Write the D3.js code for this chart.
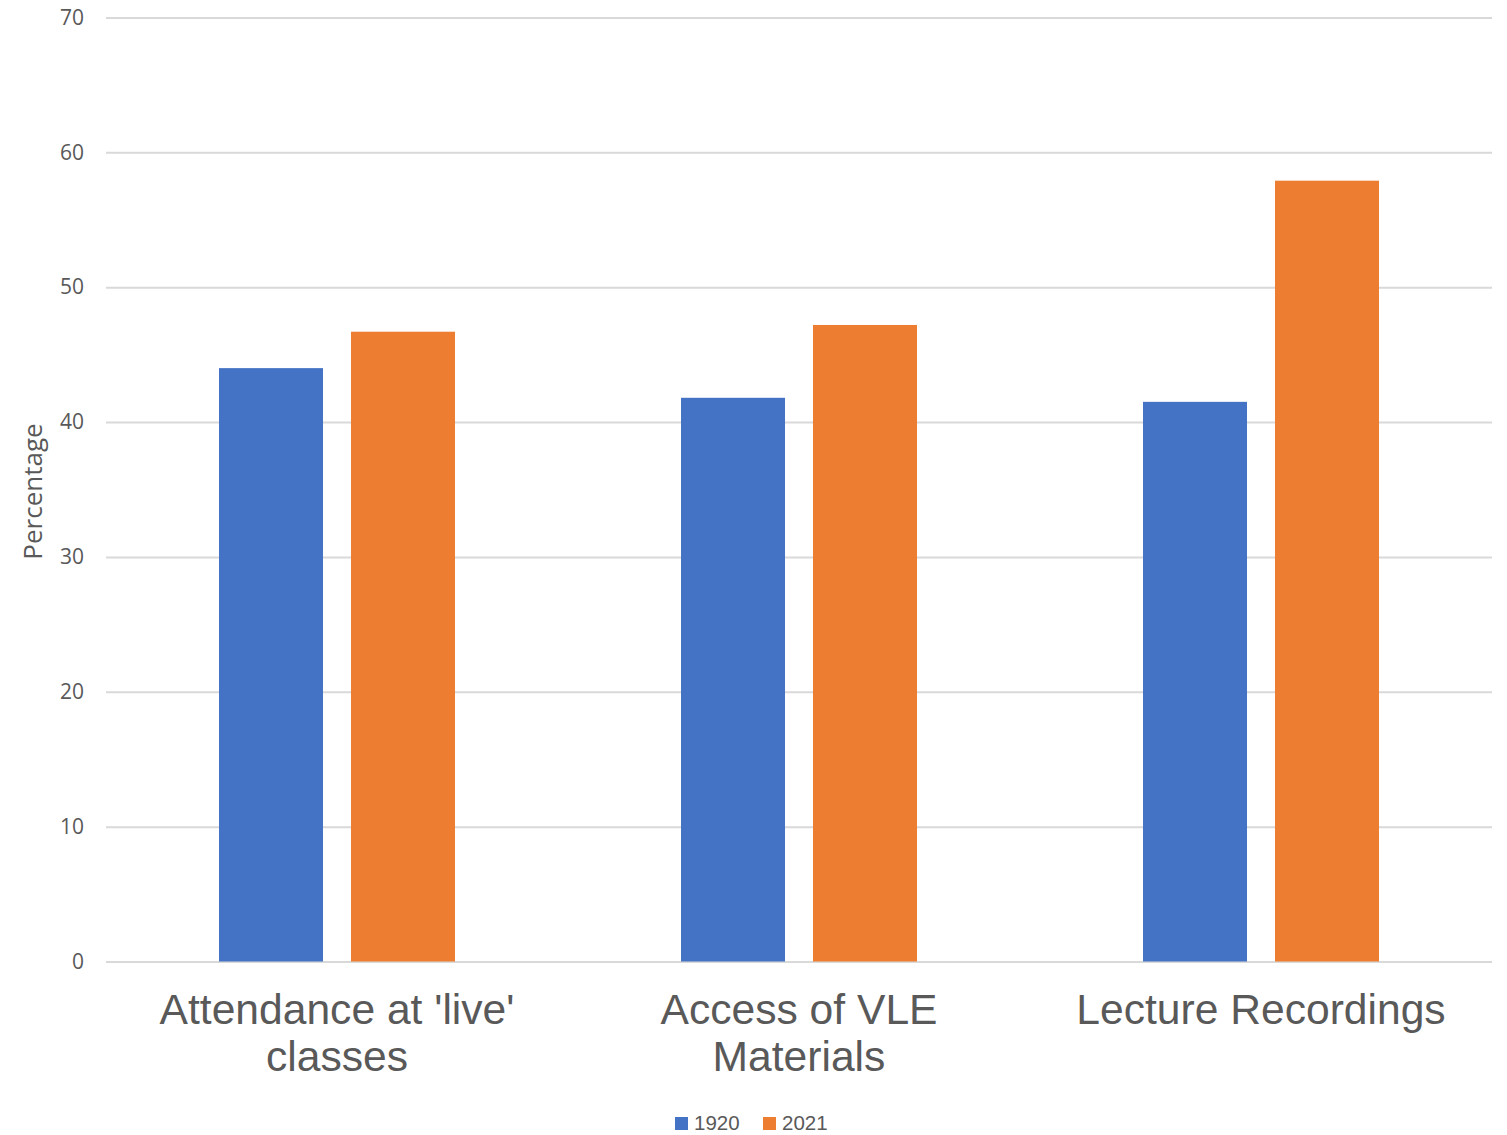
<!DOCTYPE html>
<html>
<head>
<meta charset="utf-8">
<script src="https://d3js.org/d3.v7.min.js"></script>
<style>
  html, body { margin: 0; padding: 0; background: #fff; }
  svg { display: block; }
</style>
</head>
<body>
<script>
// Survey results: share of students by activity, two academic years
const categories = [["Attendance at 'live'", "classes"], ["Access of VLE", "Materials"], ["Lecture Recordings"]];
const seriesNames = ["1920", "2021"];
const values1920 = [44.0, 41.8, 41.5];
const values2021 = [46.7, 47.2, 57.9];
const yTicks = [0, 10, 20, 30, 40, 50, 60, 70];
const colors = ["#4472C4", "#ED7D31"];

const W = 1507, H = 1135;
const plot = { left: 106, right: 1492, top: 17.5, bottom: 961.5 };

const svg = d3.select("body").append("svg").attr("width", W).attr("height", H);

const catKeys = categories.map(c => c.join(" "));
const x0 = d3.scaleBand().domain(catKeys).range([plot.left, plot.right]).padding(0);
const x1 = d3.scaleBand().domain(seriesNames).range([113, 349]).paddingInner(0.212).paddingOuter(0);
const y = d3.scaleLinear().domain([0, 70]).range([plot.bottom, plot.top]);

// gridlines + y labels
const yAxis = d3.axisLeft(y).tickValues(yTicks).tickSize(-(plot.right - plot.left)).tickPadding(22).tickFormat(d3.format("d"));
const gy = svg.append("g").attr("transform", `translate(${plot.left},0)`).call(yAxis);
gy.select(".domain").remove();
gy.selectAll(".tick line").attr("stroke", "#D9D9D9").attr("stroke-width", 2);
gy.selectAll(".tick text")
  .attr("fill", "#595959")
  .style("font-family", "'Open Sans', 'Noto Sans', sans-serif")
  .style("font-size", "21px");

// bars
const rows = catKeys.map((k, i) => ({ key: k, vals: [values1920[i], values2021[i]] }));
const groups = svg.append("g").selectAll("g").data(rows).join("g")
  .attr("transform", d => `translate(${x0(d.key)},0)`);
groups.selectAll("rect")
  .data(d => d.vals.map((v, j) => ({ name: seriesNames[j], v, j })))
  .join("rect")
  .attr("x", d => x1(d.name))
  .attr("width", x1.bandwidth())
  .attr("y", d => y(d.v))
  .attr("height", d => y(0) - y(d.v))
  .attr("fill", d => colors[d.j]);

// category labels, wrapped onto two lines where needed
const catG = svg.append("g");
categories.forEach((lines, i) => {
  const cx = x0(catKeys[i]) + x1.range()[0] + (x1.range()[1] - x1.range()[0]) / 2;
  const t = catG.append("text")
    .attr("text-anchor", "middle")
    .attr("fill", "#595959")
    .style("font-family", "'Liberation Sans', Arial, sans-serif")
    .style("font-size", "42.6px");
  lines.forEach((ln, li) => {
    t.append("tspan").attr("x", cx).attr("y", 1023.5 + li * 47.5).text(ln);
  });
});

// y axis title
svg.append("text")
  .attr("transform", `translate(42,${(plot.top + plot.bottom) / 2 + 2}) rotate(-90)`)
  .attr("text-anchor", "middle")
  .attr("fill", "#595959")
  .style("font-family", "'Open Sans', 'Noto Sans', sans-serif")
  .style("font-size", "26px")
  .text("Percentage");

// legend
const legendX = [675, 763];
const leg = svg.append("g");
seriesNames.forEach((n, i) => {
  leg.append("rect").attr("x", legendX[i]).attr("y", 1117).attr("width", 13).attr("height", 13).attr("fill", colors[i]);
  leg.append("text").attr("x", legendX[i] + 19).attr("y", 1129.5)
    .attr("fill", "#595959")
    .style("font-family", "'Liberation Sans', Arial, sans-serif")
    .style("font-size", "20.5px")
    .text(n);
});
</script>
</body>
</html>
